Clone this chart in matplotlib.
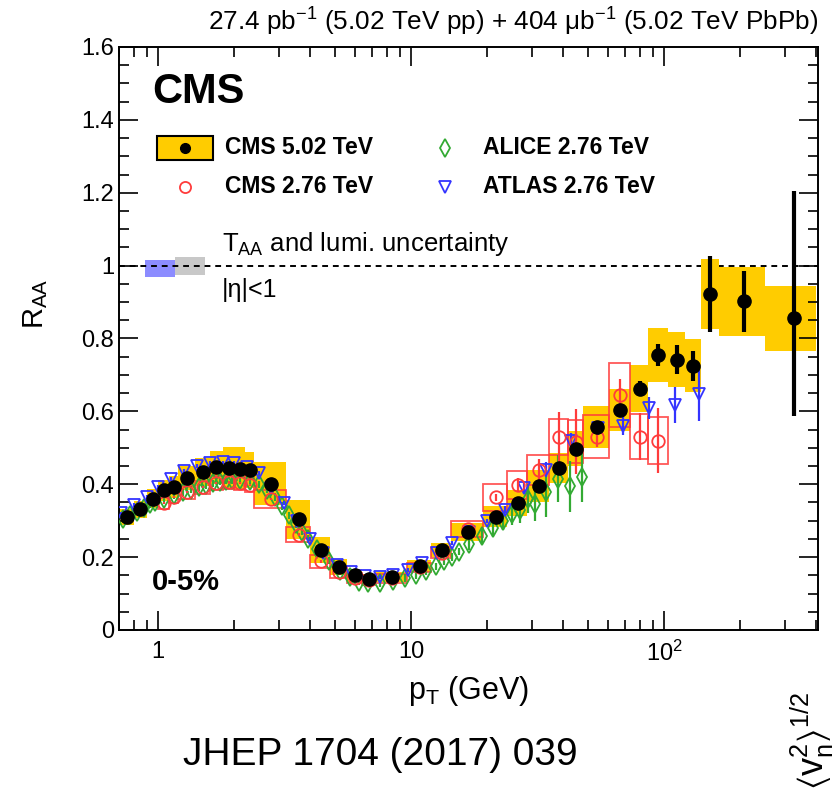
import numpy as np
import matplotlib
matplotlib.use("Agg")
import matplotlib.pyplot as plt
from matplotlib.patches import Rectangle
from matplotlib.lines import Line2D
from matplotlib.ticker import FixedLocator, FixedFormatter, MultipleLocator, NullFormatter

plt.rcParams["font.family"] = ["Liberation Sans", "DejaVu Sans"]
plt.rcParams["mathtext.fontset"] = "custom"
plt.rcParams["mathtext.rm"] = "Liberation Sans"
plt.rcParams["mathtext.it"] = "Liberation Sans"
plt.rcParams["mathtext.default"] = "regular"

# ---- CMS 5.02 TeV, 0-5% ----
cms502_edges = [0.7, 0.8, 0.9, 1.0, 1.1, 1.2, 1.4, 1.6, 1.8, 2.0, 2.2, 2.4, 3.2, 4.0, 4.8,
                5.6, 6.4, 7.2, 9.6, 12.0, 14.4, 19.2, 24.0, 28.8, 35.2, 41.6, 48.0, 60.8,
                73.6, 86.4, 103.6, 120.8, 140.0, 165.0, 250.0, 400.0]
cms502_raa = [0.310, 0.331, 0.360, 0.383, 0.392, 0.416, 0.433, 0.446, 0.445, 0.443, 0.439,
              0.402, 0.304, 0.219, 0.173, 0.150, 0.139, 0.145, 0.176, 0.220, 0.270, 0.311,
              0.348, 0.396, 0.444, 0.498, 0.557, 0.603, 0.662, 0.755, 0.742, 0.725, 0.922,
              0.902, 0.856]
cms502_stat_lo = [0.002] * 25 + [0.010, 0.012, 0.016, 0.020, 0.030, 0.040, 0.042, 0.105, 0.083, 0.270]
cms502_stat_hi = [0.002] * 25 + [0.010, 0.012, 0.016, 0.020, 0.030, 0.040, 0.042, 0.105, 0.083, 0.350]
cms502_syst = [0.022, 0.024, 0.026, 0.028, 0.030, 0.033, 0.038, 0.045, 0.058, 0.060, 0.050,
               0.060, 0.053, 0.036, 0.023, 0.017, 0.014, 0.013, 0.017, 0.020, 0.025, 0.028,
               0.035, 0.044, 0.041, 0.048, 0.057, 0.058, 0.064, 0.075, 0.075, 0.073, 0.095,
               0.094, 0.089]

# ---- CMS 2.76 TeV, 0-5% ----
cms276_edges = [1.0, 1.1, 1.2, 1.4, 1.6, 1.8, 2.0, 2.2, 2.4, 3.2, 4.0, 4.8, 5.6, 6.4, 7.2,
                9.6, 12.0, 14.4, 19.2, 24.0, 28.8, 35.2, 41.6, 48.0, 60.8, 73.6, 86.4, 103.6]
cms276_raa = [0.349, 0.366, 0.378, 0.392, 0.403, 0.405, 0.403, 0.398, 0.360, 0.262, 0.188,
              0.158, 0.142, 0.138, 0.142, 0.172, 0.212, 0.277, 0.364, 0.398, 0.440, 0.529,
              0.517, 0.531, 0.645, 0.531, 0.520]
cms276_stat = [0.003] * 18 + [0.010, 0.020, 0.030, 0.070, 0.090, 0.030, 0.045, 0.065, 0.090]
cms276_syst = [0.017, 0.017, 0.018, 0.018, 0.019, 0.019, 0.019, 0.019, 0.025, 0.020, 0.018,
               0.015, 0.014, 0.014, 0.013, 0.013, 0.015, 0.021, 0.037, 0.039, 0.041, 0.050,
               0.060, 0.060, 0.087, 0.063, 0.064]

# ---- ALICE 2.76 TeV, 0-5% ----
alice_pt = [0.725, 0.775, 0.825, 0.875, 0.925, 0.975, 1.05, 1.15, 1.25, 1.35, 1.45, 1.55,
            1.65, 1.75, 1.85, 1.95, 2.1, 2.3, 2.5, 2.7, 2.9, 3.1, 3.3, 3.5, 3.7, 3.9, 4.25,
            4.75, 5.25, 5.75, 6.25, 6.75, 7.5, 8.5, 9.5, 10.5, 11.5, 12.5, 13.5, 14.5, 15.5,
            17, 19, 21, 23, 25, 27, 29, 31, 34, 38, 42.5, 47.5]
alice_raa = [0.305, 0.315, 0.325, 0.335, 0.345, 0.352, 0.360, 0.370, 0.378, 0.385, 0.392,
             0.398, 0.403, 0.407, 0.410, 0.412, 0.412, 0.410, 0.400, 0.385, 0.365, 0.340,
             0.315, 0.290, 0.270, 0.250, 0.222, 0.190, 0.163, 0.145, 0.133, 0.128, 0.128,
             0.135, 0.143, 0.150, 0.162, 0.175, 0.188, 0.200, 0.215, 0.235, 0.258, 0.280,
             0.300, 0.318, 0.330, 0.360, 0.345, 0.380, 0.415, 0.394, 0.420]
alice_err = [0.010] * 41 + [0.015, 0.018, 0.020, 0.025, 0.030, 0.035, 0.040, 0.045, 0.070,
                            0.065, 0.070, 0.070]

# ---- ATLAS 2.76 TeV, 0-5% ----
atlas_pt = [0.71, 0.8, 0.9, 1.0, 1.12, 1.27, 1.42, 1.6, 1.8, 2.0, 2.25, 2.5, 2.8, 3.15, 3.55,
            4.0, 4.5, 5.1, 5.8, 6.6, 7.5, 8.5, 9.7, 11.0, 12.6, 14.5, 17.0, 20.0, 23.5, 28,
            34, 43, 55, 69, 87, 110, 137]
atlas_raa = [0.320, 0.343, 0.365, 0.392, 0.415, 0.437, 0.450, 0.458, 0.460, 0.458, 0.447,
             0.430, 0.390, 0.348, 0.300, 0.250, 0.210, 0.178, 0.158, 0.147, 0.145, 0.152,
             0.165, 0.185, 0.210, 0.238, 0.270, 0.300, 0.330, 0.390, 0.440, 0.520, 0.554,
             0.559, 0.610, 0.618, 0.648]
atlas_err = [0.005] * 28 + [0.010, 0.015, 0.020, 0.020, 0.020, 0.025, 0.030, 0.050, 0.075]

# normalisation uncertainties around unity: T_AA (blue) and luminosity (grey)
taa_band = (0.968, 1.016)
lumi_band = (0.974, 1.023)
norm_x = [0.889, 1.167, 1.534]

YELLOW = "#ffcc00"
RED = "#ff3b3b"
GREEN = "#33aa33"
BLUE = "#3434ff"

fig = plt.figure(figsize=(8.35, 7.92), dpi=100)
ax = fig.add_axes([119 / 835, 162 / 792, 699 / 835, 583 / 792])
ax.set_xscale("log")
ax.set_xlim(0.7, 406)
ax.set_ylim(0, 1.6)

# normalisation boxes and unity line
ax.add_patch(Rectangle((norm_x[0], taa_band[0]), norm_x[1] - norm_x[0], taa_band[1] - taa_band[0],
                       facecolor="#8c8cff", edgecolor="none", zorder=0.5))
ax.add_patch(Rectangle((norm_x[1], lumi_band[0]), norm_x[2] - norm_x[1], lumi_band[1] - lumi_band[0],
                       facecolor="#c8c8c8", edgecolor="none", zorder=0.5))
ax.axhline(1.0, color="black", lw=1.4, ls=(0, (3, 2.5)), zorder=0.8)

# CMS 5.02 systematic boxes
e502 = np.array(cms502_edges)
c502 = 0.5 * (e502[:-1] + e502[1:])
for lo, hi, v, s in zip(e502[:-1], e502[1:], cms502_raa, cms502_syst):
    ax.add_patch(Rectangle((lo, v - s), hi - lo, 2 * s, facecolor=YELLOW, edgecolor="none", zorder=1))

# CMS 2.76 systematic boxes
e276 = np.array(cms276_edges)
c276 = 0.5 * (e276[:-1] + e276[1:])
for lo, hi, v, s in zip(e276[:-1], e276[1:], cms276_raa, cms276_syst):
    ax.add_patch(Rectangle((lo, v - s), hi - lo, 2 * s, facecolor="none", edgecolor=RED,
                           lw=1.3, alpha=0.85, zorder=2))

ax.errorbar(alice_pt, alice_raa, yerr=alice_err, fmt="d", mfc="none", mec=GREEN, ecolor=GREEN,
            ms=9, mew=1.3, elinewidth=1.6, capsize=0, zorder=3)
ax.errorbar(atlas_pt, atlas_raa, yerr=atlas_err, fmt="v", mfc="none", mec=BLUE, ecolor=BLUE,
            ms=9, mew=1.3, elinewidth=1.6, capsize=0, zorder=3.5)
ax.errorbar(c276, cms276_raa, yerr=cms276_stat, fmt="o", mfc="none", mec=RED, ecolor=RED,
            ms=9, mew=1.3, elinewidth=1.6, capsize=0, zorder=4)
ax.errorbar(c502, cms502_raa, yerr=[cms502_stat_lo, cms502_stat_hi], fmt="o", color="black",
            ms=9.5, elinewidth=3, capsize=0, zorder=6)

# axes styling
ylabs = ["0", "0.2", "0.4", "0.6", "0.8", "1", "1.2", "1.4", "1.6"]
ax.yaxis.set_major_locator(FixedLocator([0, 0.2, 0.4, 0.6, 0.8, 1.0, 1.2, 1.4, 1.6]))
ax.yaxis.set_major_formatter(FixedFormatter(ylabs))
ax.yaxis.set_minor_locator(MultipleLocator(0.05))
ax.xaxis.set_major_locator(FixedLocator([1, 10, 100]))
ax.xaxis.set_major_formatter(FixedFormatter(["1", "10", r"$10^{2}$"]))
minor_x = [0.7, 0.8, 0.9] + list(range(2, 10)) + list(range(20, 100, 10)) + [200, 300, 400]
ax.xaxis.set_minor_locator(FixedLocator(minor_x))
ax.xaxis.set_minor_formatter(NullFormatter())
ax.tick_params(which="both", direction="in", top=True, right=True, labelsize=17, width=1.2)
ax.tick_params(which="major", length=14)
ax.tick_params(which="minor", length=7)
ax.tick_params(axis="x", pad=8)
for sp in ax.spines.values():
    sp.set_linewidth(1.4)

ax.set_xlabel(r"$p_{T}$ (GeV)", fontsize=22)
ax.xaxis.set_label_coords(0.5, -0.075, transform=ax.transAxes)
ax.set_ylabel(r"$R_{AA}$", fontsize=21)
ax.yaxis.set_label_coords(-0.098, 0.56, transform=ax.transAxes)


def ax_pt(x, y):
    return ((x - 119) / 699, (630 - y) / 583)


T = ax.transAxes
ax.text(*ax_pt(152, 92), "CMS", transform=T, fontsize=30, fontweight="bold", va="center", ha="left")
ax.text(*ax_pt(152, 582), "0-5%", transform=T, fontsize=21, fontweight="bold", va="center", ha="left")

# legend
bx0, by0 = ax_pt(157, 160)
bx1, by1 = ax_pt(213, 136)
ax.add_patch(Rectangle((bx0, by0), bx1 - bx0, by1 - by0, transform=T, facecolor=YELLOW,
                       edgecolor="black", lw=1.5, zorder=7))
ax.add_line(Line2D([ax_pt(185, 0)[0]], [ax_pt(0, 148)[1]], transform=T, marker="o", color="black",
                   ms=7, zorder=8))
ax.add_line(Line2D([ax_pt(185, 0)[0]], [ax_pt(0, 187)[1]], transform=T, marker="o", mfc="none",
                   mec=RED, ms=8, mew=1.3, zorder=8))
ax.add_line(Line2D([ax_pt(445, 0)[0]], [ax_pt(0, 148)[1]], transform=T, marker="d", mfc="none",
                   mec=GREEN, ms=9, mew=1.3, zorder=8))
ax.add_line(Line2D([ax_pt(445, 0)[0]], [ax_pt(0, 187)[1]], transform=T, marker="v", mfc="none",
                   mec=BLUE, ms=8, mew=1.3, zorder=8))
for (x, y, s) in [(225, 148, "CMS 5.02 TeV"), (225, 187, "CMS 2.76 TeV"),
                  (483, 148, "ALICE 2.76 TeV"), (483, 187, "ATLAS 2.76 TeV")]:
    ax.text(*ax_pt(x, y), s, transform=T, fontsize=16.5, fontweight="bold", va="center", ha="left")

ax.text(*ax_pt(222, 244), r"T$_{AA}$ and lumi. uncertainty", transform=T, fontsize=18.5,
        va="center", ha="left")
ax.text(*ax_pt(222, 290), "|η|<1", transform=T, fontsize=18, va="center", ha="left")

fig.text(818 / 835, 1 - 22 / 792, r"27.4 pb$^{-1}$ (5.02 TeV pp) + 404 μb$^{-1}$ (5.02 TeV PbPb)",
         fontsize=18.8, ha="right", va="center")
fig.text(380 / 835, 1 - 755 / 792, "JHEP 1704 (2017) 039", fontsize=28, ha="center", va="center")
fig.text(812 / 835, 1 - 790 / 792, r"$\langle v_{n}^{2}\rangle^{1/2}$", fontsize=26, rotation=90,
         ha="center", va="bottom")

fig.savefig("out.png", dpi=100)
